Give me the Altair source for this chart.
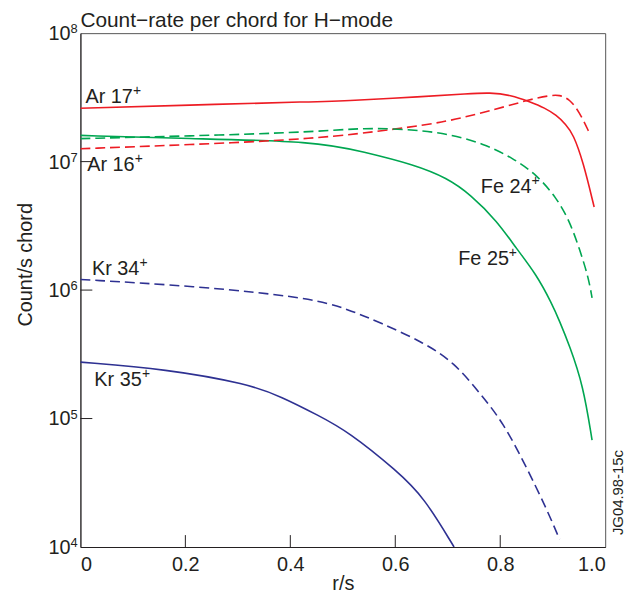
import altair as alt
import pandas as pd

# ---- data ----
ar17_x = [0, 0.2, 0.45, 0.51, 0.65, 0.74, 0.78, 0.82, 0.857, 0.885, 0.907, 0.925, 0.939, 0.958, 0.979]
ar17_y = [2.60e7, 2.75e7, 2.93e7, 2.98e7, 3.20e7, 3.38e7, 3.45e7, 3.30e7, 2.92e7, 2.62e7, 2.30e7, 1.95e7, 1.64e7, 1.00e7, 4.43e6]

ar16_x = [0, 0.2, 0.45, 0.604, 0.699, 0.794, 0.857, 0.895, 0.913, 0.932, 0.951, 0.97]
ar16_y = [1.26e7, 1.35e7, 1.50e7, 1.80e7, 2.04e7, 2.57e7, 3.05e7, 3.28e7, 3.31e7, 3.07e7, 2.43e7, 1.67e7]

fe25_x = [0, 0.2, 0.45, 0.54, 0.636, 0.699, 0.743, 0.794, 0.831, 0.869, 0.898, 0.913, 0.932, 0.958, 0.975]
fe25_y = [1.60e7, 1.51e7, 1.44e7, 1.19e7, 9.48e6, 7.45e6, 5.56e6, 3.45e6, 2.10e6, 1.32e6, 7.9e5, 5.75e5, 3.7e5, 1.82e5, 6.8e4]

fe24_x = [0, 0.2, 0.45, 0.54, 0.636, 0.699, 0.769, 0.825, 0.869, 0.907, 0.932, 0.951, 0.968, 0.975]
fe24_y = [1.51e7, 1.58e7, 1.70e7, 1.84e7, 1.77e7, 1.65e7, 1.38e7, 1.06e7, 7.94e6, 5.25e6, 3.45e6, 2.10e6, 1.26e6, 8.7e5]

kr34_x = [0, 0.225, 0.44, 0.51, 0.572, 0.655, 0.712, 0.761, 0.806, 0.85, 0.888, 0.913]
kr34_y = [1.21e6, 1.07e6, 8.7e5, 7.08e5, 5.57e5, 3.89e5, 2.74e5, 1.58e5, 9.3e4, 4.17e4, 2.0e4, 1.15e4]

kr35_x = [0, 0.163, 0.32, 0.383, 0.453, 0.51, 0.604, 0.655, 0.712]
kr35_y = [2.75e5, 2.43e5, 1.86e5, 1.48e5, 1.06e5, 7.94e4, 3.89e4, 2.43e4, 1.0e4]

series_names = ["Ar17", "Ar16", "Fe25", "Fe24", "Kr34", "Kr35"]
series_x = [ar17_x, ar16_x, fe25_x, fe24_x, kr34_x, kr35_x]
series_y = [ar17_y, ar16_y, fe25_y, fe24_y, kr34_y, kr35_y]
series_color = ["#ed1c24", "#ed1c24", "#00a651", "#00a651", "#2e3192", "#2e3192"]
series_dashed = [False, True, False, True, True, False]

label_text = ["Ar 17", "Ar 16", "Fe 24", "Fe 25", "Kr 34", "Kr 35"]
label_sup = ["+", "+", "+", "+", "+", "+"]
label_wide = [False, False, True, True, False, False]
label_x = [0.0095, 0.013, 0.763, 0.720, 0.022, 0.0265]
label_y = [2.88e7, 8.4e6, 5.7e6, 1.58e6, 1.32e6, 1.8e5]

x_ticks = [0, 0.2, 0.4, 0.6, 0.8, 1.0]
y_ticks = [1e4, 1e5, 1e6, 1e7, 1e8]
y_tick_base = ["10", "10", "10", "10", "10"]
y_tick_exp = ["4", "5", "6", "7", "8"]

title_text = "Count\u2212rate per chord for H\u2212mode"
note_text = "JG04.98-15c"

W, H = 529, 518
FONT = "Liberation Sans"
TXT = "#231f20"

rows = []
for name, xs, ys, col, dsh in zip(series_names, series_x, series_y, series_color, series_dashed):
    for i, (xv, yv) in enumerate(zip(xs, ys)):
        rows.append({"series": name, "x": xv, "y": yv, "order": i, "color": col, "dashed": dsh})
df = pd.DataFrame(rows)

xscale = alt.Scale(domain=[0, 1], nice=False)
yscale = alt.Scale(type="log", domain=[1e4, 1e8], nice=False)

x_axis = alt.Axis(values=x_ticks, ticks=False, tickSize=0, grid=False, labelPadding=8,
                  labelFontSize=20, labelFont=FONT, labelColor=TXT, title="r/s",
                  titleFontSize=20, titleFont=FONT, titleColor=TXT, titleFontWeight="normal",
                  titleBaseline="alphabetic", titleY=43, titleX=W / 2,
                  domainColor="#231f20", domainWidth=1,
                  labelExpr="datum.value == 0 ? '0' : format(datum.value, '.1f')")
y_axis = alt.Axis(values=y_ticks, ticks=False, tickSize=0, grid=False, labels=False,
                  title="Count/s chord", titleFontSize=20, titleFont=FONT, titleColor=TXT,
                  titleFontWeight="normal", titleAngle=270, titleAlign="center",
                  titleBaseline="alphabetic", titleX=-49, titleY=233,
                  domainColor="#231f20", domainWidth=1)

base = alt.Chart(df)

solid = base.transform_filter("!datum.dashed").mark_line(
    strokeWidth=1.6, clip=True, interpolate="basis").encode(
    x=alt.X("x:Q", scale=xscale, axis=x_axis),
    y=alt.Y("y:Q", scale=yscale, axis=y_axis),
    detail="series:N",
    order="order:Q",
    color=alt.Color("color:N", scale=None),
)
dashed = base.transform_filter("datum.dashed").mark_line(
    strokeWidth=1.6, clip=True, interpolate="basis", strokeDash=[10, 5]).encode(
    x=alt.X("x:Q", scale=xscale),
    y=alt.Y("y:Q", scale=yscale),
    detail="series:N",
    order="order:Q",
    color=alt.Color("color:N", scale=None),
)

labels_df = pd.DataFrame({"t": label_text, "s": label_sup, "wide": label_wide,
                          "x": label_x, "y": label_y})
lab_base = alt.Chart(labels_df)
labels = lab_base.mark_text(align="left", baseline="alphabetic", font=FONT,
                            fontSize=20, color=TXT).encode(
    x=alt.X("x:Q", scale=xscale), y=alt.Y("y:Q", scale=yscale), text="t:N")
sup_narrow = lab_base.transform_filter("!datum.wide").mark_text(
    align="left", baseline="alphabetic", font=FONT, fontSize=14, color=TXT, dx=48, dy=-8).encode(
    x=alt.X("x:Q", scale=xscale), y=alt.Y("y:Q", scale=yscale), text="s:N")
sup_wide = lab_base.transform_filter("datum.wide").mark_text(
    align="left", baseline="alphabetic", font=FONT, fontSize=14, color=TXT, dx=51, dy=-8).encode(
    x=alt.X("x:Q", scale=xscale), y=alt.Y("y:Q", scale=yscale), text="s:N")

# y tick labels with real superscript exponents
yl_df = pd.DataFrame({"y": y_ticks, "b": y_tick_base, "e": y_tick_exp})
yl_base = alt.Chart(yl_df)
ylab = yl_base.mark_text(align="right", baseline="alphabetic", font=FONT, fontSize=20,
                         color=TXT, dy=7).encode(
    y=alt.Y("y:Q", scale=yscale), x=alt.value(-10), text="b:N")
yexp = yl_base.mark_text(align="left", baseline="alphabetic", font=FONT, fontSize=13,
                         color=TXT, dy=0).encode(
    y=alt.Y("y:Q", scale=yscale), x=alt.value(-10), text="e:N")

# inward tick marks
xt_df = pd.DataFrame({"x": x_ticks[1:-1]})
xticks = alt.Chart(xt_df).mark_rule(color="#231f20", strokeWidth=1).encode(
    x=alt.X("x:Q", scale=xscale), y=alt.value(H), y2=alt.value(H - 12))

yt_df = pd.DataFrame({"y": y_ticks[1:-1]})
yticks = alt.Chart(yt_df).mark_rule(color="#231f20", strokeWidth=1).encode(
    y=alt.Y("y:Q", scale=yscale), x=alt.value(0), x2=alt.value(12))

note = alt.Chart(pd.DataFrame({"t": [note_text]})).mark_text(
    align="left", baseline="alphabetic", angle=270, fontSize=15, font=FONT, color=TXT).encode(
    x=alt.value(W + 18), y=alt.value(H - 12), text="t:N")

title = alt.Chart(pd.DataFrame({"t": [title_text]})).mark_text(
    align="left", baseline="alphabetic", fontSize=21, font=FONT, color=TXT).encode(
    x=alt.value(0), y=alt.value(-6), text="t:N")

chart = alt.layer(solid, dashed, labels, sup_narrow, sup_wide, ylab, yexp,
                  xticks, yticks, note, title).properties(
    width=W, height=H,
    autosize=alt.AutoSizeParams(type="none"),
    padding={"left": 73, "top": 23, "right": 22, "bottom": 44},
).configure_view(stroke="#555555", strokeWidth=1)

chart.save("out.html", embed_options={"renderer": "svg", "actions": False})
